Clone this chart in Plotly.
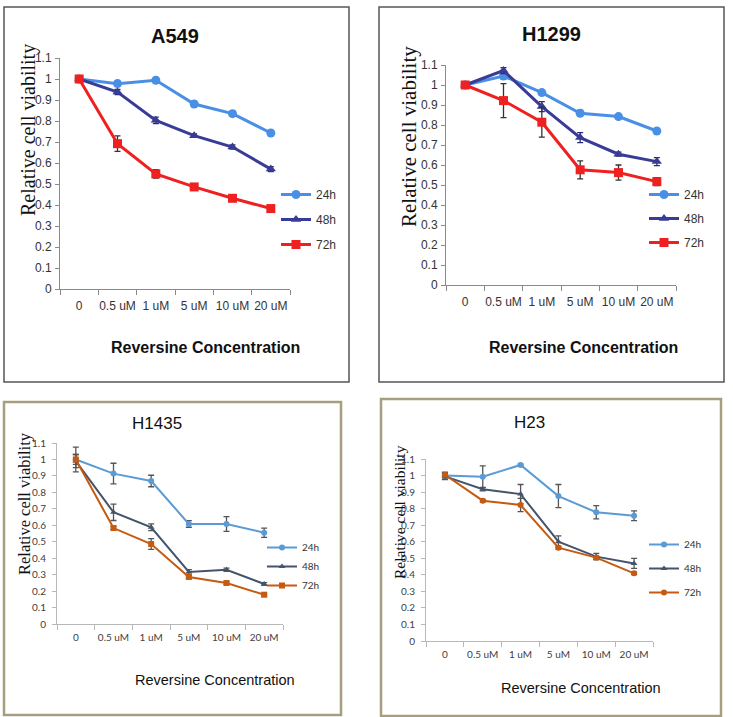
import plotly.graph_objects as go

W, H = 733, 717

categories = ["0", "0.5 uM", "1 uM", "5 uM", "10 uM", "20 uM"]
series_names = ["24h", "48h", "72h"]
y_ticks = [0, 0.1, 0.2, 0.3, 0.4, 0.5, 0.6, 0.7, 0.8, 0.9, 1.0, 1.1]
y_tick_text = ["0", "0.1", "0.2", "0.3", "0.4", "0.5", "0.6", "0.7", "0.8", "0.9", "1", "1.1"]

panel_titles = ["A549", "H1299", "H1435", "H23"]

a549_24 = [1.0, 0.978, 0.994, 0.881, 0.835, 0.743]
a549_48 = [1.0, 0.938, 0.803, 0.730, 0.676, 0.571]
a549_72 = [1.0, 0.692, 0.548, 0.486, 0.432, 0.383]
a549_24_err = [0.005, 0.012, 0.01, 0.012, 0.012, 0.01]
a549_48_err = [0.005, 0.012, 0.015, 0.008, 0.01, 0.012]
a549_72_err = [0.01, 0.037, 0.02, 0.01, 0.012, 0.008]

h1299_24 = [1.0, 1.045, 0.962, 0.859, 0.842, 0.770]
h1299_48 = [1.0, 1.072, 0.892, 0.737, 0.654, 0.617]
h1299_72 = [1.0, 0.922, 0.814, 0.576, 0.562, 0.517]
h1299_24_err = [0.005, 0.015, 0.01, 0.015, 0.01, 0.01]
h1299_48_err = [0.005, 0.015, 0.025, 0.025, 0.01, 0.02]
h1299_72_err = [0.005, 0.085, 0.075, 0.045, 0.038, 0.02]

h1435_24 = [1.0, 0.914, 0.869, 0.608, 0.608, 0.555]
h1435_48 = [0.99, 0.679, 0.588, 0.316, 0.330, 0.243]
h1435_72 = [1.0, 0.583, 0.486, 0.286, 0.249, 0.178]
h1435_24_err = [0.075, 0.063, 0.035, 0.02, 0.045, 0.028]
h1435_48_err = [0.04, 0.05, 0.02, 0.015, 0.01, 0.008]
h1435_72_err = [0.03, 0.01, 0.033, 0.01, 0.008, 0.008]

h23_24 = [1.0, 0.993, 1.064, 0.876, 0.778, 0.757]
h23_48 = [0.995, 0.917, 0.888, 0.600, 0.510, 0.469]
h23_72 = [1.005, 0.848, 0.822, 0.564, 0.504, 0.409]
h23_24_err = [0.02, 0.065, 0.005, 0.07, 0.04, 0.03]
h23_48_err = [0.02, 0.01, 0.058, 0.035, 0.02, 0.03]
h23_72_err = [0.01, 0.008, 0.04, 0.01, 0.01, 0.008]

panel_data = [
    [(a549_24, a549_24_err), (a549_48, a549_48_err), (a549_72, a549_72_err)],
    [(h1299_24, h1299_24_err), (h1299_48, h1299_48_err), (h1299_72, h1299_72_err)],
    [(h1435_24, h1435_24_err), (h1435_48, h1435_48_err), (h1435_72, h1435_72_err)],
    [(h23_24, h23_24_err), (h23_48, h23_48_err), (h23_72, h23_72_err)],
]


def px(x):
    return x / W


def py(y):
    return 1 - y / H


# plot areas in pixels: (x_left, x_right, y_of_0, y_of_1.1)
areas = [
    (60, 290, 289, 58),
    (446, 676, 285, 65),
    (57, 283, 624, 443),
    (426, 653, 641, 459),
]

top_colors = ["#4A8FE6", "#393C96", "#EE2020"]
top_err = ["#3A6FB0", "#2A2C70", "#333333"]
bot_colors = ["#5B9BD5", "#44546A", "#C55A11"]
bot_err = ["#555555", "#555555", "#555555"]
top_symbols = ["circle", "triangle-up", "square"]
bot_symbols = [
    ["circle", "triangle-up", "square"],
    ["circle", "triangle-up", "circle"],
]

fig = go.Figure()

for p in range(4):
    ax = "" if p == 0 else str(p + 1)
    top = p < 2
    for s in range(3):
        vals, errs = panel_data[p][s]
        if top:
            color, ecolor, sym = top_colors[s], top_err[s], top_symbols[s]
            lw, ms = 3, 9
        else:
            color, ecolor, sym = bot_colors[s], bot_err[s], bot_symbols[p - 2][s]
            lw, ms = 2, 6
        fig.add_trace(go.Scatter(
            x=categories, y=vals,
            mode="lines+markers",
            name=series_names[s],
            line=dict(color=color, width=lw),
            marker=dict(symbol=sym, size=ms, color=color),
            error_y=dict(type="data", array=errs, visible=True,
                         color=ecolor, thickness=1.3, width=3),
            xaxis="x" + ax, yaxis="y" + ax,
            legend="legend" + ax,
            legendgroup="g%d_%d" % (p, s),
            showlegend=True,
        ))

layout = dict(
    width=W, height=H,
    margin=dict(l=0, r=0, t=0, b=0, pad=0, autoexpand=False),
    paper_bgcolor="white", plot_bgcolor="white",
    showlegend=True,
)

tick_fonts = [
    dict(family="Liberation Sans, Arial, sans-serif", size=12, color="#333333"),
    dict(family="Liberation Sans, Arial, sans-serif", size=12, color="#333333"),
    dict(family="Lato, Liberation Sans, sans-serif", size=10, color="#404040"),
    dict(family="Lato, Liberation Sans, sans-serif", size=10, color="#404040"),
]
axis_colors = ["#8a8a8a", "#8a8a8a", "#b8b8b8", "#b8b8b8"]
x_standoff = [6, 6, 4, 4]
y_standoff = [1, 1, 4, 4]

for p in range(4):
    ax = "" if p == 0 else str(p + 1)
    xl, xr, y0, y11 = areas[p]
    layout["xaxis" + ax] = dict(
        domain=[px(xl), px(xr)], anchor="y" + ax,
        type="category", range=[-0.5, 5.5],
        tickson="boundaries", ticks="outside", ticklen=5,
        tickcolor=axis_colors[p], tickangle=0,
        ticklabelstandoff=x_standoff[p],
        showline=True, linecolor=axis_colors[p], linewidth=1,
        showgrid=False, zeroline=False, automargin=False,
        tickfont=tick_fonts[p], fixedrange=True,
    )
    layout["yaxis" + ax] = dict(
        domain=[py(y0), py(y11)], anchor="x" + ax,
        range=[0, 1.1], tickvals=y_ticks, ticktext=y_tick_text,
        ticks="outside", ticklen=4, tickcolor=axis_colors[p],
        ticklabelstandoff=y_standoff[p],
        showline=True, linecolor=axis_colors[p], linewidth=1,
        showgrid=False, zeroline=False, automargin=False,
        tickfont=tick_fonts[p], fixedrange=True,
    )

# legends
legend_specs = [
    (276, 180, 12, "Liberation Sans, Arial, sans-serif", 6),
    (644, 180, 12, "Liberation Sans, Arial, sans-serif", 5),
    (262, 533, 10, "Lato, Liberation Sans, sans-serif", 0),
    (644, 530, 10, "Lato, Liberation Sans, sans-serif", 5),
]
for p in range(4):
    key = "legend" if p == 0 else "legend%d" % (p + 1)
    lx, ly, fs, fam, gap = legend_specs[p]
    layout[key] = dict(
        x=px(lx), y=py(ly), xanchor="left", yanchor="top",
        font=dict(family=fam, size=fs, color="#333333"),
        bgcolor="rgba(0,0,0,0)", borderwidth=0,
        itemwidth=30, tracegroupgap=gap, traceorder="grouped",
    )

annotations = []
# panel titles
title_specs = [
    (175, 36, 20, True, "Liberation Sans, Arial, sans-serif"),
    (551, 34, 20, True, "Liberation Sans, Arial, sans-serif"),
    (157, 423, 17, False, "Liberation Sans, Arial, sans-serif"),
    (529, 422, 17, False, "Liberation Sans, Arial, sans-serif"),
]
for p in range(4):
    x, y, fs, bold, fam = title_specs[p]
    t = panel_titles[p]
    annotations.append(dict(
        text="<b>%s</b>" % t if bold else t,
        x=px(x), y=py(y), xref="paper", yref="paper",
        xanchor="center", yanchor="middle", showarrow=False,
        font=dict(family=fam, size=fs, color="#111111"),
    ))

# y-axis titles
ytitle_specs = [(28, 130, 20), (409, 137, 21), (25, 504, 16.5), (399, 512, 15.5)]
for x, y, fs in ytitle_specs:
    annotations.append(dict(
        text="Relative cell viability", textangle=-90,
        x=px(x), y=py(y), xref="paper", yref="paper",
        xanchor="center", yanchor="middle", showarrow=False,
        font=dict(family="Liberation Serif, Times New Roman, serif", size=fs, color="#111111"),
    ))

# x-axis titles
xtitle_specs = [
    (205, 348, 16, True, "Liberation Sans, Arial, sans-serif"),
    (583, 348, 16, True, "Liberation Sans, Arial, sans-serif"),
    (215, 680, 14.5, False, "Liberation Sans, Arial, sans-serif"),
    (581, 688, 14.5, False, "Liberation Sans, Arial, sans-serif"),
]
for x, y, fs, bold, fam in xtitle_specs:
    t = "Reversine Concentration"
    annotations.append(dict(
        text="<b>%s</b>" % t if bold else t,
        x=px(x), y=py(y), xref="paper", yref="paper",
        xanchor="center", yanchor="middle", showarrow=False,
        font=dict(family=fam, size=fs, color="#111111"),
    ))

layout["annotations"] = annotations

# panel frames
frames = [
    (4, 7, 349, 382, "#555555", 1.5),
    (379, 7, 724, 382, "#555555", 1.5),
    (4, 402, 341, 715, "#A69E7E", 2.5),
    (381, 399, 721, 716, "#A69E7E", 2.5),
]
shapes = []
for x0, y0, x1, y1, c, w in frames:
    shapes.append(dict(
        type="rect", xref="paper", yref="paper",
        x0=px(x0), x1=px(x1), y0=py(y0), y1=py(y1),
        line=dict(color=c, width=w), fillcolor="rgba(0,0,0,0)",
        layer="below",
    ))
layout["shapes"] = shapes

fig.update_layout(**layout)
fig.write_html(
    "out.html",
    config={"displayModeBar": False},
    post_script="document.body.style.margin='0';document.body.style.padding='0';",
)
